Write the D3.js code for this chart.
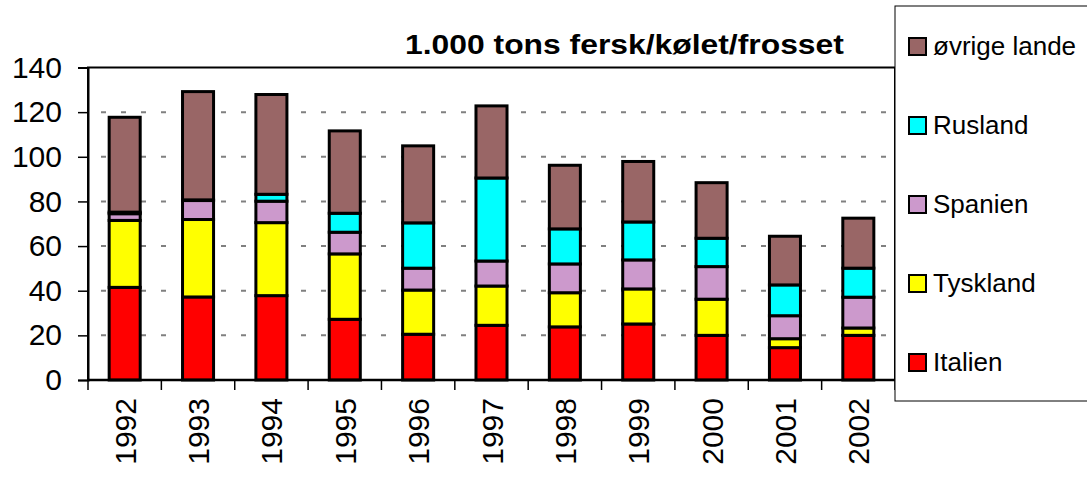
<!DOCTYPE html>
<html><head><meta charset="utf-8">
<script src="https://cdn.jsdelivr.net/npm/d3@7"></script>
<style>
html,body{margin:0;padding:0;background:#fff;}
svg{display:block;font-family:"Liberation Sans",Arial,sans-serif;}
svg text{font-family:"Liberation Sans",Arial,sans-serif;}
</style></head>
<body>
<svg id="chart" width="1087" height="480"></svg>
<script>
const years = ["1992","1993","1994","1995","1996","1997","1998","1999","2000","2001","2002"];
const italien   = [41.5, 37.2, 37.8, 27.2, 20.5, 24.5, 23.8, 25.1, 20.0, 14.5, 20.0];
const tyskland  = [30.0, 34.7, 32.7, 29.3, 19.8, 17.6, 15.3, 15.7, 16.2,  4.0,  3.3];
const spanien   = [ 3.0,  8.5,  9.6,  9.7,  9.8, 11.2, 12.9, 13.0, 14.6, 10.3, 13.8];
const rusland   = [ 0.7,  0.3,  3.1,  8.5, 20.3, 37.2, 15.7, 17.0, 12.7, 13.8, 13.0];
const ovrige    = [42.5, 48.5, 44.7, 36.9, 34.5, 32.3, 28.5, 27.1, 24.9, 21.8, 22.4];
const seriesNames = ["Italien","Tyskland","Spanien","Rusland","øvrige lande"];
const seriesColors = ["#FF0000","#FFFF00","#CC99CC","#00FFFF","#996666"];
const yTicks = [0,20,40,60,80,100,120,140];
const title = "1.000 tons fersk/kølet/frosset";

const FONT = "'Liberation Sans', Arial, sans-serif";
const svg = d3.select("#chart");
const L = 88, R = 895, T = 67.5, B = 380;

const x = d3.scaleBand().domain(years).range([L, R]).paddingInner(0.577).paddingOuter(0.2885);
const y = d3.scaleLinear().domain([0, 140]).range([B, T]);

const allSeries = [italien, tyskland, spanien, rusland, ovrige];
const table = years.map((yr, i) => {
  const o = {year: yr};
  seriesNames.forEach((n, k) => o[n] = allSeries[k][i]);
  return o;
});
const stacked = d3.stack().keys(seriesNames)(table);

// gridlines
svg.append("g").selectAll("line").data(yTicks.filter(v => v > 0 && v < 140)).join("line")
  .attr("x1", L).attr("x2", R)
  .attr("y1", d => y(d)).attr("y2", d => y(d))
  .attr("stroke", "#808080").attr("stroke-width", 2)
  .attr("stroke-dasharray", "5,15").attr("stroke-dashoffset", -13);

// plot border
svg.append("rect").attr("x", L).attr("y", T).attr("width", R - L).attr("height", B - T)
  .attr("fill", "none").attr("stroke", "#000").attr("stroke-width", 2);

// bars
svg.append("g").selectAll("g").data(stacked).join("g")
  .attr("fill", (d, i) => seriesColors[i])
  .selectAll("rect").data(d => d).join("rect")
  .attr("x", d => x(d.data.year))
  .attr("width", x.bandwidth())
  .attr("y", d => y(d[1]))
  .attr("height", d => y(d[0]) - y(d[1]))
  .attr("stroke", "#000").attr("stroke-width", 3);

// y axis
const yAxis = svg.append("g").attr("transform", `translate(${L},0)`)
  .call(d3.axisLeft(y).tickValues(yTicks).tickSize(10).tickPadding(16).tickFormat(d3.format("d")));
yAxis.select(".domain").attr("stroke", "#000").attr("stroke-width", 2);
yAxis.selectAll(".tick line").attr("stroke", "#000").attr("stroke-width", 1.5);
yAxis.selectAll("text").attr("font-size", 30).attr("font-family", FONT).attr("fill", "#000");

// x axis line
svg.append("line").attr("x1", L).attr("x2", R).attr("y1", B).attr("y2", B)
  .attr("stroke", "#000").attr("stroke-width", 2.5);
// x ticks at band boundaries
const step = x.step();
const bounds = d3.range(years.length + 1).map(i => i < years.length ? x(years[i]) - step * x.paddingInner() / 2 : x(years[i - 1]) + x.bandwidth() + step * x.paddingInner() / 2);
svg.append("g").selectAll("line").data(bounds).join("line")
  .attr("x1", d => d).attr("x2", d => d).attr("y1", B).attr("y2", B + 10)
  .attr("stroke", "#000").attr("stroke-width", 1.5);
// x labels
svg.append("g").selectAll("text").data(years).join("text")
  .attr("transform", d => `translate(${x(d) + x.bandwidth() / 2 + 11},${B + 18}) rotate(-90)`)
  .attr("text-anchor", "end")
  .attr("font-size", 30).attr("font-family", FONT).attr("fill", "#000")
  .text(d => d);

// title (horizontally scaled to the reference width)
const titleText = svg.append("text").attr("x", 0).attr("y", 0)
  .attr("font-size", 27).attr("font-weight", "bold").attr("font-family", FONT).attr("fill", "#000")
  .text(title);
const tw = titleText.node().getComputedTextLength();
titleText.attr("transform", `translate(405,54) scale(${439 / tw},1)`);

// legend
svg.append("rect").attr("x", 895).attr("y", 6).attr("width", 200).attr("height", 395)
  .attr("fill", "#fff").attr("stroke", "#000").attr("stroke-width", 1);
const legendOrder = [4, 3, 2, 1, 0];
const lg = svg.append("g").selectAll("g").data(legendOrder).join("g")
  .attr("transform", (d, i) => `translate(909,${55 + i * 79})`);
lg.append("rect").attr("x", 0).attr("y", -17).attr("width", 17).attr("height", 17)
  .attr("fill", d => seriesColors[d]).attr("stroke", "#000").attr("stroke-width", 2);
lg.append("text").attr("x", 24).attr("y", 0).attr("font-size", 26).attr("font-family", FONT).attr("fill", "#000")
  .text(d => seriesNames[d]);
</script>
</body></html>
